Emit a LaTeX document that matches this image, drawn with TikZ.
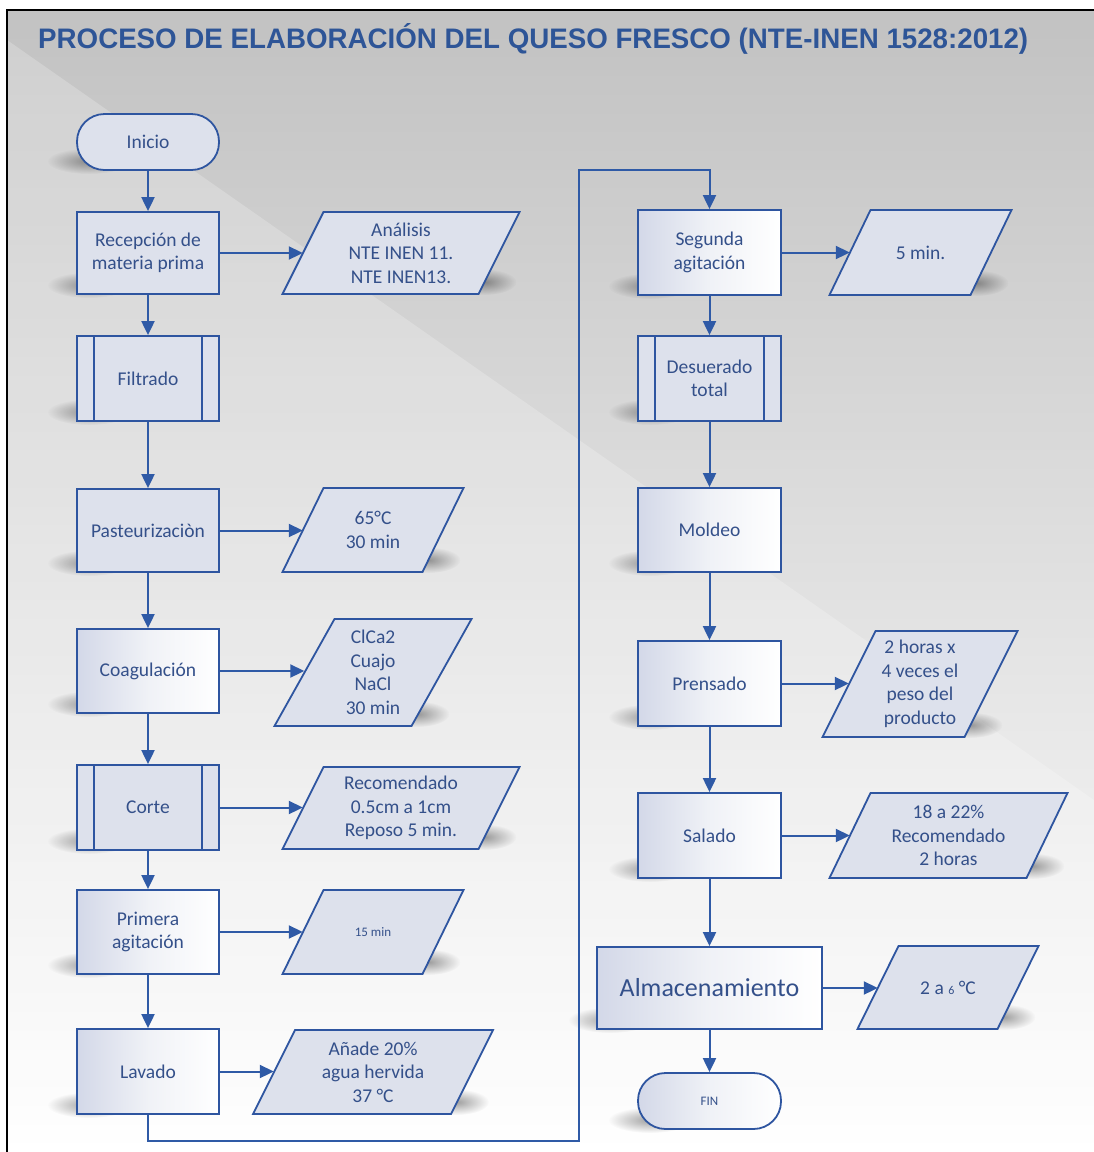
\documentclass[tikz,border=0pt]{standalone}
\usepackage{fontspec}
\setmainfont{Carlito}
\newfontfamily\titlefont{Liberation Sans}
\usetikzlibrary{arrows.meta,fadings}
\definecolor{lineblue}{HTML}{2F5AA6}
\definecolor{edgeblue}{HTML}{2E55A0}
\definecolor{txtblue}{HTML}{34508A}
\definecolor{titleblue}{HTML}{2E5597}
\definecolor{boxfill}{HTML}{DDE1EC}
\definecolor{boxleft}{HTML}{D3D8E8}
\definecolor{bgtop}{HTML}{C2C2C2}
\definecolor{bgmid}{HTML}{E2E2E2}
\tikzfading[name=softdot, inner color=transparent!0, outer color=transparent!100]
\tikzset{
  base/.style={draw=edgeblue, line width=1.8pt, text=txtblue, align=center,
    font=\fontsize{19.5}{23.5}\selectfont, inner sep=2pt},
  flatbox/.style={base, fill=boxfill, minimum width=142, minimum height=84},
  gradbox/.style={base, left color=boxleft, right color=white, middle color=boxfill!45!white,
    minimum width=142, minimum height=84},
  subbox/.style={flatbox, path picture={
    \draw[edgeblue, line width=1.8pt]
      ([xshift=17pt]path picture bounding box.north west) -- ([xshift=17pt]path picture bounding box.south west)
      ([xshift=-17pt]path picture bounding box.north east) -- ([xshift=-17pt]path picture bounding box.south east);}},
  termbox/.style={base, minimum width=142, minimum height=56, rounded corners=27.5pt},
  pshape/.style={draw=edgeblue, fill=boxfill, line width=1.8pt, line join=miter},
  ptext/.style={text=txtblue, align=center, font=\fontsize{19.5}{23.5}\selectfont, inner sep=0pt},
  conn/.style={draw=lineblue, line width=2pt, -{Triangle[length=14pt,width=13pt]}},
  shad/.style={fill=black, opacity=0.36, path fading=softdot}
}
% parallelogram: name, cx, cy, width, height, slant, text
\newcommand\paral[7]{%
  \fill[shad] ({#2+#4/2-#6/2+6},{#3+#5/2-12}) ellipse [x radius=32, y radius=13];
  \filldraw[pshape] ({#2-#4/2-#6/2},{#3+#5/2}) -- ({#2+#4/2-#6/2},{#3+#5/2}) --
    ({#2+#4/2+#6/2},{#3-#5/2}) -- ({#2-#4/2+#6/2},{#3-#5/2}) -- cycle;
  \node[ptext, minimum width=#4, minimum height=#5] (#1) at (#2,#3) {#7};}
% box shadow: cx, bottom y, width
\newcommand\bshad[3]{%
  \fill[shad] ({#1-#3/2+12},{#2-9}) ellipse [x radius=42, y radius=13];}
\begin{document}
\begin{tikzpicture}[x=1pt,y=-1pt]
\useasboundingbox (0,0) rectangle (1094,1152);
% background
\fill[white] (0,0) rectangle (1094,1152);
\shade[top color=bgtop, middle color=bgmid, bottom color=white] (7,10) rectangle (1094,1152);
\fill[white, opacity=0.22] (7,40) -- (1094,800) -- (1094,1152) -- (7,1152) -- cycle;
\draw[black, line width=2pt] (7,1152) -- (7,10) -- (1094,10);
% title
\node[anchor=base west, inner sep=0pt, text=titleblue] (title) at (38,48)
  {\resizebox{990pt}{25pt}{\titlefont\bfseries PROCESO DE ELABORACIÓN DEL QUESO FRESCO (NTE-INEN 1528:2012)}};
% shadows of boxes
\bshad{148}{170}{142}
\bshad{148}{294}{142}
\bshad{148}{421}{142}
\bshad{148}{572}{142}
\bshad{148}{713}{142}
\bshad{148}{850}{142}
\bshad{148}{974}{142}
\bshad{148}{1114}{142}
\bshad{709.5}{295}{143}
\bshad{709.5}{421}{143}
\bshad{709.5}{572}{143}
\bshad{709.5}{726}{143}
\bshad{709.5}{878}{143}
\bshad{710.5}{1029}{225}
\bshad{709.5}{1129}{143}
% left column
\node[termbox, fill=boxfill] (ini) at (148,142) {Inicio};
\node[flatbox, minimum height=82] (rec) at (148,253) {Recepción de\\materia prima};
\node[subbox, minimum height=85] (fil) at (148,378.5) {Filtrado};
\node[flatbox, minimum height=83] (pas) at (148,530.5) {Pasteurizaciòn};
\node[gradbox] (coa) at (148,671) {Coagulación};
\node[subbox, minimum height=85] (cor) at (148,807.5) {Corte};
\node[gradbox] (pri) at (148,932) {Primera\\agitación};
\node[gradbox, minimum height=85] (lav) at (148,1071.5) {Lavado};
% right column
\node[gradbox, minimum width=143, minimum height=85] (seg) at (709.5,252.5) {Segunda\\agitación};
\node[subbox, minimum width=143, minimum height=85] (des) at (709.5,378.5) {Desuerado\\total};
\node[gradbox, minimum width=143] (mol) at (709.5,530) {Moldeo};
\node[gradbox, minimum width=143, minimum height=85] (pre) at (709.5,683.5) {Prensado};
\node[gradbox, minimum width=143, minimum height=85] (sal) at (709.5,835.5) {Salado};
\node[gradbox, minimum width=225, minimum height=82, font=\fontsize{26}{28}\selectfont] (alm) at (709.5,988) {Almacenamiento};
\node[termbox, left color=boxleft, right color=white, middle color=boxfill!45!white, minimum width=143,
  font=\fontsize{13}{15}\selectfont] (fin) at (709.5,1101) {FIN};
% data (parallelograms)
\paral{ana}{401}{253}{196}{82}{41}{Análisis\\NTE INEN 11.\\NTE INEN13.}
\paral{t65}{373}{530}{140}{84}{41}{65°C\\30 min}
\paral{cla}{373}{672.5}{137}{107}{60}{ClCa2\\Cuajo\\NaCl\\30 min}
\paral{rcm}{401}{808}{196}{82}{41}{Recomendado\\0.5cm a 1cm\\Reposo 5 min.}
\paral{q15}{373}{932}{140}{84}{41}{\fontsize{13}{15}\selectfont 15 min}
\paral{aag}{373}{1072}{198}{84}{42}{Añade 20\%\\agua hervida\\37 °C}
\paral{m5}{920.5}{252.5}{141}{85}{41}{5 min.}
\paral{hor}{920}{684}{142}{106}{53}{2 horas x\\4 veces el\\peso del\\producto}
\paral{sl2}{948.5}{835.5}{197}{85}{41}{18 a 22\%\\Recomendado\\2 horas}
\paral{t26}{948}{987.5}{140}{83}{41}{2 a {\fontsize{12}{14}\selectfont 6} °C}
% connectors
\draw[conn] (ini) -- (rec);
\draw[conn] (rec) -- (fil);
\draw[conn] (fil) -- (pas);
\draw[conn] (pas) -- (coa);
\draw[conn] (coa) -- (cor);
\draw[conn] (cor) -- (pri);
\draw[conn] (pri) -- (lav);
\draw[conn] (rec.east) -- (rec.east -| ana.west);
\draw[conn] (pas.east) -- (pas.east -| t65.west);
\draw[conn] (coa.east) -- (coa.east -| cla.west);
\draw[conn] (cor.east) -- (cor.east -| rcm.west);
\draw[conn] (pri.east) -- (pri.east -| q15.west);
\draw[conn] (lav.east) -- (lav.east -| aag.west);
\coordinate (c1) at (579,1141);
\coordinate (c2) at (579,170);
\draw[conn] (lav.south) |- (c1) -- (c2) -| (seg.north);
\draw[conn] (seg) -- (des);
\draw[conn] (des) -- (mol);
\draw[conn] (mol) -- (pre);
\draw[conn] (pre) -- (sal);
\draw[conn] (sal) -- (alm);
\draw[conn] (alm) -- (fin);
\draw[conn] (seg.east) -- (seg.east -| m5.west);
\draw[conn] (pre.east) -- (pre.east -| hor.west);
\draw[conn] (sal.east) -- (sal.east -| sl2.west);
\draw[conn] (alm.east) -- (alm.east -| t26.west);
\end{tikzpicture}
\end{document}
